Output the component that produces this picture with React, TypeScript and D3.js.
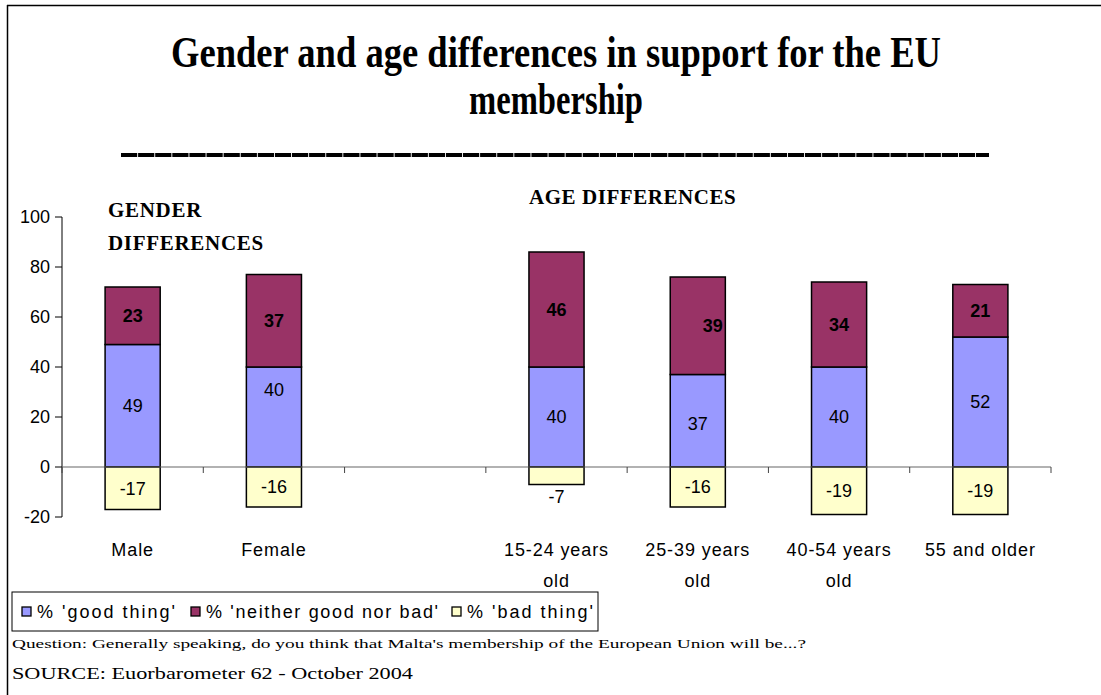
import React from "react";
import * as d3 from "d3";

const categories: string[][] = [["Male"], ["Female"], [], ["15-24 years", "old"], ["25-39 years", "old"], ["40-54 years", "old"], ["55 and older"]];
const goodThing: (number | null)[] = [49, 40, null, 40, 37, 40, 52];
const neitherGoodNorBad: (number | null)[] = [23, 37, null, 46, 39, 34, 21];
const badThing: (number | null)[] = [-17, -16, null, -7, -16, -19, -19];
const yTicks = [-20, 0, 20, 40, 60, 80, 100];
const seriesNames = ["% 'good thing'", "% 'neither good nor bad'", "% 'bad thing'"];
const seriesColors = ["#9999FF", "#993366", "#FFFFCC"];
const titleLines = ["Gender and age differences in support for the EU", "membership"];

// small label nudges (px) to mimic hand-placed labels in the original
const labelNudge: Record<string, [number, number]> = {
  "1-0": [0, -27],
  "4-1": [15, 0],
  "4-0": [0, 3],
};

const W = 1101;
const H = 695;

export default function App() {
  const x = d3.scaleBand<number>().domain(d3.range(categories.length)).range([62, 1051]).padding(0);
  const y = d3.scaleLinear().domain([-20, 100]).range([517, 217]);
  const bw = x.bandwidth() * 0.39;
  const sans = "'Liberation Sans', Arial, sans-serif";
  const serif = "'Liberation Serif', 'Times New Roman', serif";

  const segs: { key: string; x0: number; y0: number; y1: number; v: number; s: number; i: number }[] = [];
  categories.forEach((_, i) => {
    const g = goodThing[i];
    const n = neitherGoodNorBad[i];
    const b = badThing[i];
    if (g == null || n == null || b == null) return;
    const cx = (x(i) as number) + x.bandwidth() / 2;
    segs.push({ key: `${i}-0`, x0: cx, y0: 0, y1: g, v: g, s: 0, i });
    segs.push({ key: `${i}-1`, x0: cx, y0: g, y1: g + n, v: n, s: 1, i });
    segs.push({ key: `${i}-2`, x0: cx, y0: b, y1: 0, v: b, s: 2, i });
  });

  const boundaries = d3.range(categories.length + 1).map((k) => (k < categories.length ? (x(k) as number) : 1051));

  const legendItems = [
    { sx: 22, tx: 37, tl: 138 },
    { sx: 191, tx: 206, tl: 232 },
    { sx: 452, tx: 467, tl: 126 },
  ];

  return (
    <svg width={W} height={H} style={{ position: "absolute", left: 0, top: 0, background: "#fff" }}>
      <rect x={0} y={0} width={W} height={H} fill="#fff" />
      {/* outer frame */}
      <line x1={7.5} y1={5} x2={7.5} y2={H} stroke="#000" strokeWidth={1.5} />
      <line x1={7} y1={5.5} x2={W} y2={5.5} stroke="#000" strokeWidth={1.5} />

      {/* title */}
      <text x={556} y={67} textAnchor="middle" fontFamily={serif} fontWeight="bold" fontSize={44} textLength={770} lengthAdjust="spacingAndGlyphs">
        {titleLines[0]}
      </text>
      <text x={556} y={114} textAnchor="middle" fontFamily={serif} fontWeight="bold" fontSize={44} textLength={174} lengthAdjust="spacingAndGlyphs">
        {titleLines[1]}
      </text>
      {/* title rule (row of underscores) */}
      <line x1={121} x2={989} y1={155} y2={155} stroke="#000" strokeWidth={4} strokeDasharray="16.2 0.9" />

      {/* group headings */}
      <text x={108} y={217} fontFamily={serif} fontWeight="bold" fontSize={21} letterSpacing={0.7}>GENDER</text>
      <text x={108} y={250} fontFamily={serif} fontWeight="bold" fontSize={21} letterSpacing={0.7}>DIFFERENCES</text>
      <text x={529} y={204} fontFamily={serif} fontWeight="bold" fontSize={21} letterSpacing={0.55}>AGE DIFFERENCES</text>

      {/* y axis */}
      <line x1={62} y1={y(-20)} x2={62} y2={y(100)} stroke="#000" strokeWidth={1} />
      {yTicks.map((t) => (
        <g key={t}>
          <line x1={55} x2={62} y1={y(t)} y2={y(t)} stroke="#000" />
          <text x={50} y={y(t)} dy="0.36em" textAnchor="end" fontFamily={sans} fontSize={18}>
            {t}
          </text>
        </g>
      ))}

      {/* bars */}
      {segs.map((d) => (
        <rect
          key={d.key}
          x={d.x0 - bw / 2}
          y={y(d.y1)}
          width={bw}
          height={y(d.y0) - y(d.y1)}
          fill={seriesColors[d.s]}
          stroke="#000"
          strokeWidth={1.5}
        />
      ))}

      {/* x axis */}
      <line x1={62} x2={1051} y1={y(0)} y2={y(0)} stroke="#666" strokeWidth={1.2} />
      {boundaries.map((bx, k) => (
        <line key={k} x1={bx} x2={bx} y1={y(0)} y2={y(0) + 6} stroke="#444" />
      ))}

      {/* value labels */}
      {segs.map((d) => {
        const nudge = labelNudge[d.key] || [0, 0];
        const small = Math.abs(d.v) < 10;
        const cy = small ? y(d.y0) + 12 : (y(d.y0) + y(d.y1)) / 2;
        return (
          <text
            key={"l" + d.key}
            x={d.x0 + nudge[0]}
            y={cy + nudge[1]}
            dy="0.36em"
            textAnchor="middle"
            fontFamily={sans}
            fontSize={18}
            fontWeight={d.s === 1 ? "bold" : "normal"}
          >
            {d.v}
          </text>
        );
      })}

      {/* category labels */}
      {categories.map((lines, i) =>
        lines.map((ln, j) => (
          <text
            key={`c${i}-${j}`}
            x={(x(i) as number) + x.bandwidth() / 2}
            y={556 + j * 31}
            textAnchor="middle"
            fontFamily={sans}
            fontSize={18}
            letterSpacing={0.9}
          >
            {ln}
          </text>
        ))
      )}

      {/* legend */}
      <rect x={12} y={592} width={586} height={39} fill="#fff" stroke="#000" strokeWidth={1} />
      {legendItems.map((it, k) => (
        <g key={k}>
          <rect x={it.sx} y={607} width={9} height={9} fill={seriesColors[k]} stroke="#000" strokeWidth={1.3} />
          <text x={it.tx} y={618} fontFamily={sans} fontSize={18} textLength={it.tl} lengthAdjust="spacing">
            {seriesNames[k]}
          </text>
        </g>
      ))}

      {/* footnotes */}
      <text x={12} y={648} fontFamily={serif} fontSize={13} textLength={794} lengthAdjust="spacingAndGlyphs">
        Question: Generally speaking, do you think that Malta's membership of the European Union will be...?
      </text>
      <text x={12} y={679} fontFamily={serif} fontSize={17} textLength={401} lengthAdjust="spacingAndGlyphs">
        SOURCE: Euorbarometer 62 - October 2004
      </text>
    </svg>
  );
}
